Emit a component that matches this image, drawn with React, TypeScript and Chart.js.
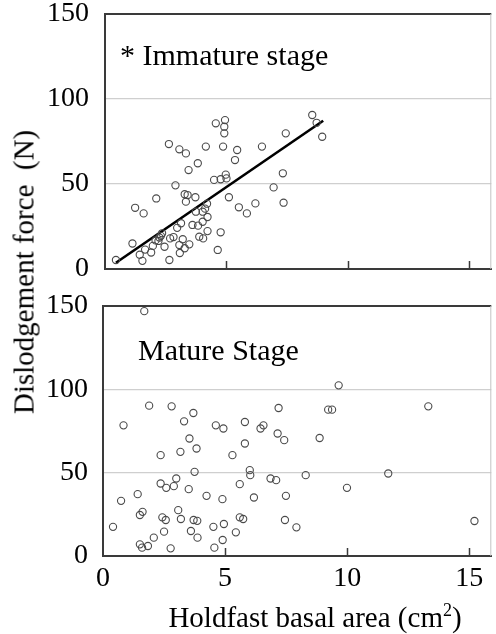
import React, { useEffect, useRef } from 'react';
import { Chart, registerables } from 'chart.js';

Chart.register(...registerables);

const SERIF = '"Liberation Serif", "Times New Roman", serif';

// Immature stage (top panel)
const immatureArea = [0.45, 1.13, 1.24, 1.59, 1.43, 1.54, 1.65, 1.9, 1.97, 2.11, 2.2, 2.3, 2.35, 2.45, 2.63, 2.65, 2.68, 2.82, 2.9, 2.97, 3.06, 3.06, 3.13, 3.08, 3.2, 3.28, 3.33, 3.44, 3.28, 3.4, 3.33, 3.47, 3.6, 3.72, 3.74, 3.82, 3.83, 3.88, 4.04, 4.02, 4.02, 4.12, 4.15, 4.2, 4.22, 4.22, 4.49, 4.56, 4.64, 4.76, 4.76, 4.86, 4.91, 4.91, 4.94, 4.97, 5.0, 5.1, 5.35, 5.44, 5.51, 5.84, 6.19, 6.46, 6.94, 7.32, 7.35, 7.44, 8.53, 8.71, 8.94, 2.08, 2.24];
const immatureForce = [5.3, 15, 36, 32.7, 8.4, 4.8, 11.4, 9.7, 13.6, 41.5, 16.5, 19.5, 21, 13.1, 73.5, 5.3, 18, 18.8, 49.2, 24.2, 14.1, 70.4, 26.9, 9.4, 17.5, 12.2, 68, 58.2, 44, 43.5, 39.6, 14.5, 25.9, 42.2, 33.7, 62.2, 25.5, 19, 18, 27.8, 33.7, 35.5, 72, 38.4, 22.3, 30.6, 52.4, 85.7, 11.2, 21.6, 52.8, 72, 79.8, 83.7, 87.6, 55.5, 53.3, 42.2, 64.1, 70, 36.3, 32.7, 38.6, 72, 48, 56.3, 39, 79.8, 90.6, 86, 77.8, 16.8, 18.5];

// Regression line (immature stage)
const fitArea = [0.45, 8.98];
const fitForce = [3.7, 87.2];

// Mature stage (bottom panel)
const matureArea = [1.69, 0.41, 0.74, 0.84, 1.42, 1.51, 1.62, 1.51, 1.6, 1.84, 1.89, 2.08, 2.36, 2.36, 2.43, 2.5, 2.57, 2.59, 2.77, 2.81, 2.9, 3.0, 3.08, 3.17, 3.19, 3.32, 3.51, 3.54, 3.6, 3.7, 3.71, 3.75, 3.83, 3.86, 3.87, 4.24, 4.52, 4.56, 4.62, 4.89, 4.9, 4.93, 4.95, 5.3, 5.44, 5.6, 5.6, 5.74, 5.81, 5.81, 6.01, 6.03, 6.18, 6.45, 6.57, 6.86, 7.09, 7.15, 7.19, 7.42, 7.45, 7.49, 7.92, 8.3, 8.87, 9.22, 9.38, 9.65, 9.99, 11.68, 13.32, 15.21];
const matureForce = [146.9, 17.5, 33.1, 78.4, 37.1, 24.6, 26.5, 7, 5, 6, 90.2, 11, 60.5, 43.5, 23.2, 14.6, 21.6, 40.9, 4.6, 89.8, 41.9, 46.5, 27.5, 62.5, 22.2, 80.8, 40.1, 70.5, 15, 85.8, 21.6, 50.5, 64.5, 21.1, 11, 36.1, 17.5, 5, 78.4, 34.1, 9.6, 76.5, 19.2, 60.5, 14.2, 43.1, 23.2, 22.2, 80.4, 67.5, 51.5, 48.5, 35.1, 76.5, 78.4, 46.5, 45.5, 73.5, 88.8, 69.5, 21.6, 36.1, 17.2, 48.5, 70.8, 87.8, 87.8, 102.4, 40.9, 49.5, 89.8, 21];

const yTicks = [0, 50, 100, 150];
const xTicks = [0, 5, 10, 15];
const innerTicks = [5, 10, 15];
const xMin = 0;
const xMax = 15.9;
const yMin = 0;
const yMax = 150;

const topLabel = '* Immature stage';
const bottomLabel = 'Mature Stage';
const yTitle = 'Dislodgement force  (N)';

const toPoints = (xs: number[], ys: number[]) => xs.map((x, i) => ({ x, y: ys[i] }));

const scatterStyle = {
  type: 'scatter' as const,
  showLine: false,
  pointRadius: 3.6,
  pointHoverRadius: 3.6,
  pointBorderWidth: 1.1,
  pointBorderColor: '#4a4a4a',
  pointBackgroundColor: 'rgba(0,0,0,0)',
  clip: false as any,
};

function makeFramePlugin(label: string, dx: number, dy: number) {
  return {
    id: 'frame',
    afterDraw(chart: any) {
      const { ctx, chartArea } = chart;
      const xs = chart.scales.x;
      ctx.save();
      ctx.strokeStyle = '#3a3a3a';
      ctx.lineWidth = 2;
      ctx.beginPath();
      ctx.moveTo(chartArea.left, chartArea.top);
      ctx.lineTo(chartArea.right, chartArea.top);
      ctx.stroke();
      ctx.strokeStyle = '#c4c4c4';
      ctx.lineWidth = 1;
      ctx.beginPath();
      ctx.moveTo(chartArea.right - 0.5, chartArea.top);
      ctx.lineTo(chartArea.right - 0.5, chartArea.bottom);
      ctx.stroke();
      ctx.strokeStyle = '#3a3a3a';
      ctx.lineWidth = 1.5;
      innerTicks.forEach((v) => {
        const px = Math.round(xs.getPixelForValue(v)) + 0.5;
        ctx.beginPath();
        ctx.moveTo(px, chartArea.bottom);
        ctx.lineTo(px, chartArea.bottom - 8);
        ctx.stroke();
      });
      ctx.fillStyle = '#000';
      ctx.font = `30px ${SERIF}`;
      ctx.textBaseline = 'alphabetic';
      ctx.textAlign = 'left';
      ctx.fillText(label, chartArea.left + dx, chartArea.top + dy);
      ctx.restore();
    },
  };
}

function makeOptions(opts: { leftWidth: number; padTop: number; xHeight: number; showXLabels: boolean; yPad: number }) {
  return {
    animation: false as const,
    responsive: false,
    maintainAspectRatio: false,
    layout: { padding: { top: opts.padTop, right: 1, left: 0, bottom: 0 } },
    plugins: { legend: { display: false }, tooltip: { enabled: false } },
    events: [] as any[],
    scales: {
      x: {
        type: 'linear' as const,
        min: xMin,
        max: xMax,
        afterBuildTicks: (scale: any) => {
          scale.ticks = xTicks.map((v) => ({ value: v }));
        },
        afterFit: (scale: any) => {
          scale.height = opts.xHeight;
          scale.paddingLeft = 0;
          scale.paddingRight = 0;
        },
        grid: { display: true, drawTicks: false, color: 'rgba(0,0,0,0)' },
        border: { display: true, color: '#3a3a3a', width: 2 },
        ticks: {
          display: opts.showXLabels,
          autoSkip: false,
          maxRotation: 0,
          padding: 9,
          color: '#000',
          font: { family: SERIF, size: 28, lineHeight: 1 },
        },
      },
      y: {
        type: 'linear' as const,
        min: yMin,
        max: yMax,
        afterBuildTicks: (scale: any) => {
          scale.ticks = yTicks.map((v) => ({ value: v }));
        },
        afterFit: (scale: any) => {
          scale.width = opts.leftWidth;
          scale.paddingTop = 0;
          scale.paddingBottom = 0;
        },
        grid: {
          drawTicks: false,
          lineWidth: 1.2,
          color: (c: any) => (c.tick && (c.tick.value === 50 || c.tick.value === 100) ? '#cfcfcf' : 'rgba(0,0,0,0)'),
        },
        border: { display: true, color: '#3a3a3a', width: 2 },
        ticks: {
          padding: opts.yPad,
          color: '#000',
          font: { family: SERIF, size: 28, lineHeight: 1 },
        },
      },
    },
  };
}

export default function App() {
  const topRef = useRef<HTMLCanvasElement>(null);
  const bottomRef = useRef<HTMLCanvasElement>(null);

  useEffect(() => {
    const top = new Chart(topRef.current as HTMLCanvasElement, {
      type: 'scatter',
      data: {
        datasets: [
          { ...scatterStyle, label: 'Immature', data: toPoints(immatureArea, immatureForce) } as any,
          {
            type: 'line',
            label: 'Fit',
            data: toPoints(fitArea, fitForce),
            borderColor: '#000',
            borderWidth: 2.6,
            pointRadius: 0,
            fill: false,
          } as any,
        ],
      },
      options: makeOptions({ leftWidth: 105, padTop: 14, xHeight: 21, showXLabels: false, yPad: 16 }) as any,
      plugins: [makeFramePlugin(topLabel, 15, 51)],
    });
    const bottom = new Chart(bottomRef.current as HTMLCanvasElement, {
      type: 'scatter',
      data: {
        datasets: [{ ...scatterStyle, label: 'Mature', data: toPoints(matureArea, matureForce) } as any],
      },
      options: makeOptions({ leftWidth: 103, padTop: 26, xHeight: 78, showXLabels: true, yPad: 15 }) as any,
      plugins: [makeFramePlugin(bottomLabel, 35, 54)],
    });
    return () => {
      top.destroy();
      bottom.destroy();
    };
  }, []);

  return (
    <div style={{ position: 'absolute', left: 0, top: 0, width: 496, height: 634, overflow: 'hidden', background: '#fff', fontFamily: SERIF }}>
      <canvas ref={topRef} width={496} height={290} style={{ position: 'absolute', left: 0, top: 0, width: 496, height: 290 }} />
      <canvas ref={bottomRef} width={496} height={354} style={{ position: 'absolute', left: 0, top: 280, width: 496, height: 354 }} />
      <div
        style={{
          position: 'absolute',
          left: 24,
          top: 272,
          transform: 'translate(-50%, -50%) rotate(-90deg)',
          whiteSpace: 'pre',
          fontSize: 29,
          lineHeight: '29px',
          color: '#000',
        }}
      >
        {yTitle}
      </div>
      <div
        style={{
          position: 'absolute',
          left: 315,
          top: 617,
          transform: 'translate(-50%, -50%)',
          whiteSpace: 'pre',
          fontSize: 29,
          lineHeight: '29px',
          color: '#000',
        }}
      >
        Holdfast basal area (cm<sup style={{ fontSize: 18, lineHeight: 0 }}>2</sup>)
      </div>
    </div>
  );
}
